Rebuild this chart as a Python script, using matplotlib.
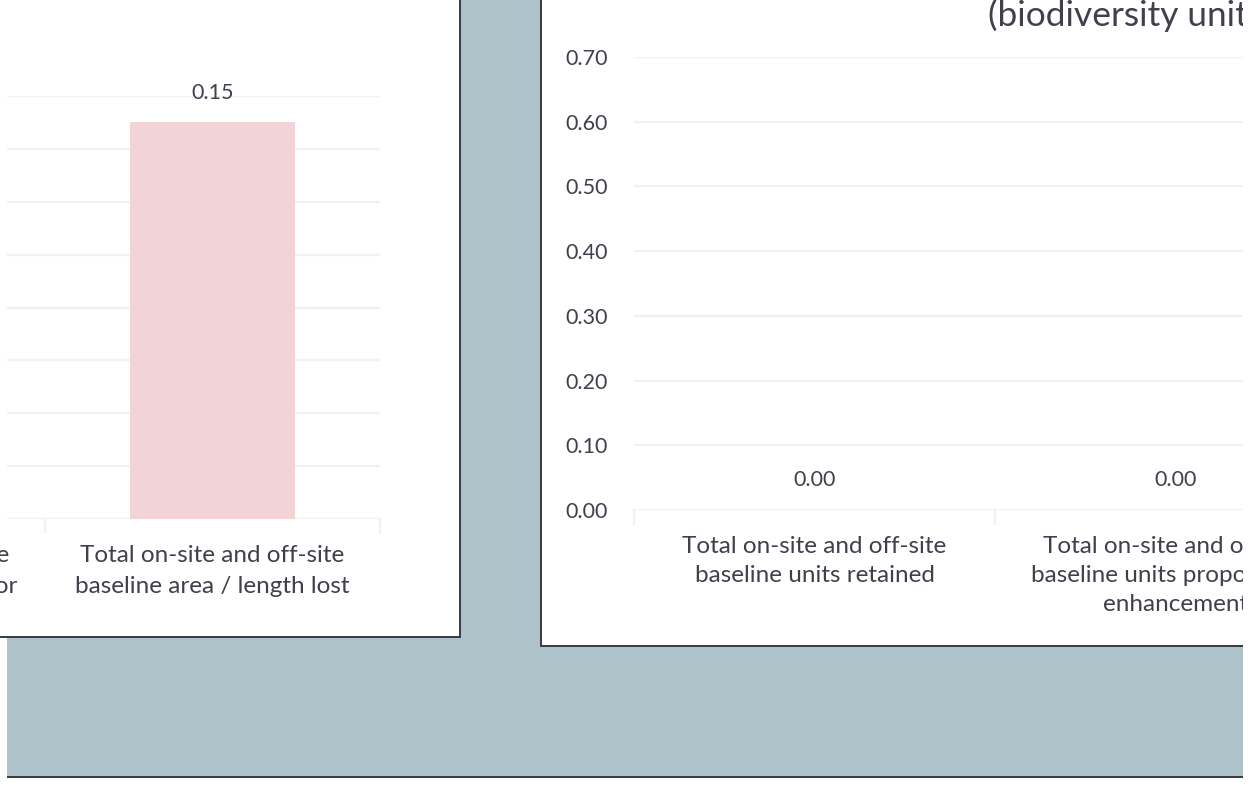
import matplotlib.pyplot as plt
from matplotlib.patches import Rectangle

W, H = 1256, 787

# left chart: on-site and off-site baseline area / length
left_cats = ["Total on-site and off-site\nbaseline area / length retained",
             "Total on-site and off-site\narea / length proposed for\nenhancement",
             "Total on-site and off-site\nbaseline area / length lost"]
left_vals = [0.00, 0.00, 0.15]

# right chart: baseline biodiversity units
right_cats = ["Total on-site and off-site\nbaseline units retained",
              "Total on-site and off-site\nbaseline units proposed for\nenhancement",
              "Total on-site and off-site\nbaseline units lost"]
right_vals = [0.00, 0.00, 0.00]
right_ticks = [0.0, 0.1, 0.2, 0.3, 0.4, 0.5, 0.6, 0.7]

teal = "#adc3c9"
edge = "#3c3d4b"
txt = "#3f404c"
grid = "#eef2f3"
pink = "#f2d3d6"
plt.rcParams["font.family"] = ["Lato", "DejaVu Sans"]

fig = plt.figure(figsize=(W / 100, H / 100), dpi=100, facecolor="white")


def rect(x0, y0, x1, y1, color, z=0):
    fig.add_artist(Rectangle((x0 / W, 1 - y1 / H), (x1 - x0) / W, (y1 - y0) / H,
                             transform=fig.transFigure, facecolor=color,
                             edgecolor="none", zorder=z))


# dashboard background and panels
rect(7, 0, 1243, 776, teal, -5)
rect(7, 776, 1243, 778, edge, -5)
rect(0, 0, 461, 638, edge, -4)
rect(0, 0, 459, 636, "white", -4)
rect(540, 0, 1256, 647, edge, -4)
rect(542, 0, 1256, 645, "white", -4)


def chart(x0, x1, y0, y1, cat_w, xleft, cats, vals, top, ticks, show_y, lsp):
    ax = fig.add_axes([x0 / W, 1 - y1 / H, (x1 - x0) / W, (y1 - y0) / H])
    ax.set_facecolor("none")
    ax.set_xlim(xleft, xleft + (x1 - x0) / cat_w)
    ax.set_ylim(0, top)
    ax.set_yticks(ticks)
    for t in ticks:
        ax.axhline(t, color=grid, lw=1.6, zorder=0)
    for s in ax.spines.values():
        s.set_visible(False)
    ax.set_xticks([])
    for b in range(len(cats) + 1):
        ax.plot([b - 0.5, b - 0.5], [0, -top * 0.03], color=grid, lw=1.6,
                clip_on=False)
    ax.bar(range(len(vals)), vals, width=0.49, color=pink, zorder=1)
    for i, (c, v) in enumerate(zip(cats, vals)):
        ax.annotate(f"{v:.2f}", (i, v), xytext=(0, 21.5), textcoords="offset points",
                    ha="center", va="center", fontsize=15.5, color=txt,
                    annotation_clip=False)
        ax.annotate(c, (i, 0), xytext=(0, -18.5), textcoords="offset points",
                    ha="center", va="top", fontsize=17.5, color=txt,
                    linespacing=lsp, annotation_clip=False)
    if show_y:
        ax.tick_params(axis="y", length=0, labelsize=15.5, labelcolor=txt, pad=19)
        ax.set_yticklabels([f"{t:.2f}" for t in ticks])
    else:
        ax.set_yticklabels([])
        ax.tick_params(axis="y", length=0)
    return ax


chart(7, 380, 96, 519, 335, 2.5 - 373 / 335, left_cats, left_vals, 0.16,
      [0.02 * k for k in range(9)], False, 1.62)
chart(634, 1243, 57, 510, 361, -0.5, right_cats, right_vals, 0.70,
      right_ticks, True, 1.48)

fig.text(988 / W, 1 - 15 / H, "(biodiversity units)", fontsize=25.4, color=txt,
         ha="left", va="center")

# screenshot clipped at the right edge
rect(1243, 0, 1256, 787, "white", 10)

fig.savefig("out.png", dpi=100, facecolor="white")
